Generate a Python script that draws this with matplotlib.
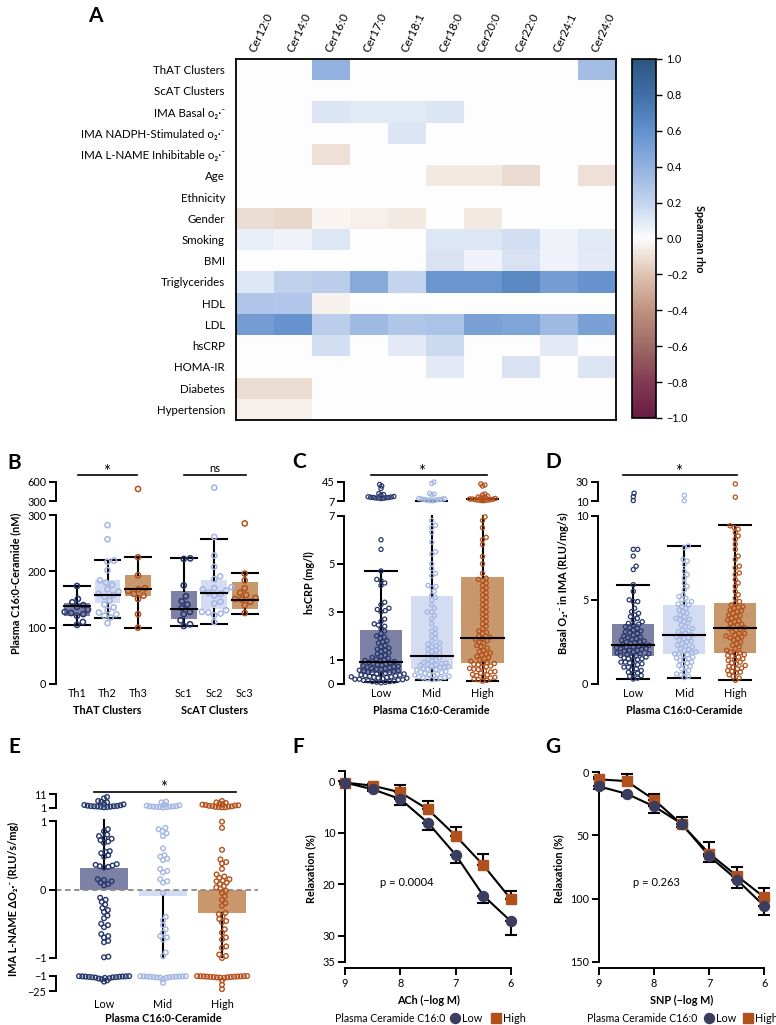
import numpy as np
import matplotlib
matplotlib.use('Agg')
import matplotlib.pyplot as plt
from matplotlib.colors import LinearSegmentedColormap
from matplotlib.lines import Line2D
from matplotlib.patches import Rectangle
from matplotlib.ticker import FuncFormatter

plt.rcParams['font.family'] = ['Lato', 'DejaVu Sans']
plt.rcParams['axes.unicode_minus'] = True

# ---------------- Panel A data ----------------
cer_cols = ['Cer12:0', 'Cer14:0', 'Cer16:0', 'Cer17:0', 'Cer18:1',
            'Cer18:0', 'Cer20:0', 'Cer22:0', 'Cer24:1', 'Cer24:0']
row_labels = ['ThAT Clusters', 'ScAT Clusters', 'IMA Basal o₂·⁻',
              'IMA NADPH-Stimulated o₂·⁻', 'IMA L-NAME Inhibitable o₂·⁻',
              'Age', 'Ethnicity', 'Gender', 'Smoking', 'BMI', 'Triglycerides',
              'HDL', 'LDL', 'hsCRP', 'HOMA-IR', 'Diabetes', 'Hypertension']
rho_that = [0, 0, 0.40, 0, 0, 0, 0, 0, 0, 0.33]
rho_scat = [0, 0, 0, 0, 0, 0, 0, 0, 0, 0]
rho_basal = [0, 0, 0.12, 0.10, 0.10, 0.12, 0, 0, 0, 0]
rho_nadph = [0, 0, 0, 0, 0.12, 0, 0, 0, 0, 0]
rho_lname = [0, 0, -0.10, 0, 0, 0, 0, 0, 0, 0]
rho_age = [0, 0, 0, 0, 0, -0.07, -0.07, -0.12, 0, -0.10]
rho_eth = [0, 0, 0, 0, 0, 0, 0, 0, 0, 0]
rho_gender = [-0.11, -0.13, -0.03, -0.05, -0.07, 0, -0.07, 0, 0, 0]
rho_smoking = [0.07, 0.05, 0.11, 0, 0, 0.11, 0.11, 0.15, 0.05, 0.10]
rho_bmi = [0, 0, 0, 0, 0, 0.13, 0.05, 0.13, 0.05, 0.09]
rho_tg = [0.11, 0.22, 0.24, 0.45, 0.20, 0.57, 0.57, 0.65, 0.52, 0.58]
rho_hdl = [0.28, 0.27, -0.04, 0, 0, 0, 0, 0, 0, 0]
rho_ldl = [0.52, 0.58, 0.24, 0.35, 0.28, 0.30, 0.50, 0.48, 0.35, 0.50]
rho_crp = [0, 0, 0.15, 0, 0.09, 0.17, 0, 0, 0.09, 0]
rho_homa = [0, 0, 0, 0, 0, 0.09, 0, 0.13, 0, 0.12]
rho_diab = [-0.11, -0.11, 0, 0, 0, 0, 0, 0, 0, 0]
rho_htn = [-0.05, -0.05, 0, 0, 0, 0, 0, 0, 0, 0]

# ---------------- Panel B data ----------------
b_labels = ['Th1', 'Th2', 'Th3', 'Sc1', 'Sc2', 'Sc3']
b_q1 = [120, 143, 157, 115, 133, 134]
b_med = [138, 158, 169, 134, 161, 150]
b_q3 = [144, 185, 193, 165, 184, 181]
b_lo = [104, 117, 99, 103, 107, 124]
b_hi = [174, 220, 226, 223, 258, 197]
th1_pts = [174, 151, 145, 140, 137, 132, 128, 126, 124, 121, 110, 105]
th2_pts = [282, 257, 219, 217, 202, 184, 180, 176, 168, 164, 160, 158, 155,
           148, 141, 136, 131, 127, 124, 121, 118, 108]
th3_pts = [490, 225, 193, 170, 168, 165, 160, 157, 151, 124, 100]
sc1_pts = [223, 222, 175, 156, 147, 141, 135, 128, 124, 113, 106, 103]
sc2_pts = [510, 261, 228, 208, 191, 186, 172, 170, 168, 166, 162, 160, 157,
           146, 143, 131, 128, 127, 125, 122, 110]
sc3_pts = [285, 196, 184, 170, 162, 158, 153, 151, 150, 146, 140, 126]

# ---------------- Panel C data (hsCRP) ----------------
grp_labels = ['Low', 'Mid', 'High']
c_q1 = [0.47, 0.61, 0.86]
c_med = [0.93, 1.18, 1.90]
c_q3 = [2.24, 3.68, 4.44]
c_lo = [0.10, 0.18, 0.12]
c_hi = [4.70, 7.5, 12.0]
crp_low = [0.05, 0.07, 0.08, 0.1, 0.1, 0.12, 0.14, 0.15, 0.17, 0.18, 0.2, 0.2,
           0.22, 0.24, 0.25, 0.27, 0.28, 0.3, 0.3, 0.32, 0.34, 0.35, 0.37, 0.38,
           0.4, 0.42, 0.43, 0.45, 0.47, 0.48, 0.5, 0.52, 0.54, 0.55, 0.57, 0.6,
           0.62, 0.64, 0.65, 0.68, 0.7, 0.72, 0.74, 0.76, 0.78, 0.8, 0.83, 0.85,
           0.88, 0.9, 0.93, 0.95, 0.98, 1.0, 1.03, 1.07, 1.1, 1.15, 1.2, 1.25,
           1.3, 1.35, 1.4, 1.45, 1.5, 1.55, 1.6, 1.7, 1.75, 1.8, 1.9, 1.95, 2.0,
           2.1, 2.2, 2.3, 2.4, 2.45, 2.5, 2.6, 2.7, 3.0, 3.05, 3.1, 3.15, 3.3,
           3.4, 4.1, 4.2, 4.3, 4.35, 4.7, 5.6, 6.0,
           12, 12.5, 13, 13, 13.5, 14, 14, 14.5, 15, 15.5, 16, 19, 20, 22, 32, 37, 40]
crp_mid = [0.18, 0.2, 0.22, 0.24, 0.25, 0.27, 0.3, 0.32, 0.35, 0.37, 0.4, 0.42,
           0.45, 0.48, 0.5, 0.52, 0.55, 0.58, 0.6, 0.62, 0.65, 0.68, 0.7, 0.72,
           0.75, 0.78, 0.8, 0.83, 0.85, 0.88, 0.9, 0.95, 1.0, 1.05, 1.1, 1.15,
           1.2, 1.25, 1.3, 1.35, 1.4, 1.45, 1.5, 1.55, 1.6, 1.65, 1.7, 1.8, 1.9,
           2.0, 2.1, 2.2, 2.3, 2.5, 2.7, 2.85, 3.0, 3.0, 3.15, 3.3, 3.5, 3.6,
           3.7, 3.85, 4.0, 4.05, 4.1, 4.5, 4.6, 4.8, 5.0, 5.4, 5.5, 5.9, 6.3,
           6.5, 6.6, 6.8,
           7.3, 8, 8.5, 9, 9.5, 10, 10, 10.5, 11, 11.5, 12, 19, 21, 22, 42, 45]
crp_high = [0.12, 0.15, 0.18, 0.2, 0.25, 0.28, 0.3, 0.35, 0.38, 0.4, 0.45, 0.5,
            0.52, 0.55, 0.6, 0.62, 0.65, 0.7, 0.72, 0.75, 0.8, 0.82, 0.85, 0.88,
            0.9, 0.95, 1.0, 1.05, 1.1, 1.15, 1.2, 1.25, 1.3, 1.35, 1.4, 1.5,
            1.55, 1.6, 1.7, 1.75, 1.8, 1.85, 1.9, 1.95, 2.0, 2.1, 2.15, 2.2, 2.3,
            2.4, 2.5, 2.6, 2.7, 2.8, 2.9, 3.0, 3.1, 3.2, 3.3, 3.4, 3.5, 3.6, 3.7,
            3.8, 3.9, 4.0, 4.1, 4.2, 4.3, 4.35, 4.4, 4.6, 5.0, 5.3, 5.8, 6.0,
            6.1, 6.5, 6.8, 6.95,
            7.5, 8, 8.5, 9, 9, 9.5, 10, 10.5, 11, 11, 12, 12.5, 13, 14, 15, 17,
            19, 21, 37, 39, 41]

# ---------------- Panel D data (basal O2) ----------------
d_q1 = [1.69, 1.80, 1.84]
d_med = [2.32, 2.90, 3.31]
d_q3 = [3.57, 4.70, 4.82]
d_lo = [0.30, 0.38, 0.22]
d_hi = [5.90, 8.17, 9.45]
o2_low = [0.3, 0.35, 0.45, 0.5, 0.6, 0.65, 0.7, 0.8, 0.85, 0.9, 1.0, 1.0, 1.1,
          1.15, 1.2, 1.25, 1.3, 1.3, 1.4, 1.45, 1.5, 1.5, 1.55, 1.6, 1.65, 1.7,
          1.7, 1.75, 1.8, 1.8, 1.85, 1.9, 1.95, 2.0, 2.0, 2.05, 2.1, 2.1, 2.15,
          2.2, 2.2, 2.25, 2.3, 2.3, 2.35, 2.4, 2.45, 2.5, 2.5, 2.55, 2.6, 2.65,
          2.7, 2.75, 2.8, 2.85, 2.9, 3.0, 3.05, 3.1, 3.15, 3.2, 3.3, 3.35, 3.4,
          3.5, 3.55, 3.6, 3.7, 3.8, 3.9, 4.0, 4.1, 4.2, 4.3, 4.5, 4.9, 4.9, 5.0,
          5.5, 5.9, 6.8, 7.0, 7.6, 8.0, 8.0,
          10.5, 14.6, 18.2]
o2_mid = [0.38, 0.45, 0.55, 0.6, 0.7, 0.8, 0.9, 1.0, 1.05, 1.1, 1.2, 1.25, 1.3,
          1.4, 1.45, 1.5, 1.55, 1.6, 1.7, 1.75, 1.8, 1.8, 1.85, 1.9, 2.0, 2.05,
          2.1, 2.2, 2.25, 2.3, 2.4, 2.5, 2.55, 2.6, 2.7, 2.75, 2.8, 2.9, 2.9,
          3.0, 3.1, 3.15, 3.2, 3.3, 3.4, 3.5, 3.6, 3.7, 3.8, 3.85, 3.9, 4.0,
          4.1, 4.2, 4.3, 4.4, 4.5, 4.6, 4.7, 4.75, 4.8, 4.9, 5.0, 5.1, 5.2, 5.3,
          5.6, 5.8, 6.0, 6.3, 6.5, 6.7, 7.1, 7.3, 7.4, 8.1, 8.2,
          10.3, 16.0]
o2_high = [0.22, 0.35, 0.45, 0.55, 0.65, 0.7, 0.75, 0.8, 0.9, 0.95, 1.0, 1.05,
           1.1, 1.2, 1.25, 1.3, 1.4, 1.45, 1.5, 1.6, 1.65, 1.7, 1.75, 1.8, 1.85,
           1.9, 2.0, 2.1, 2.2, 2.3, 2.4, 2.5, 2.6, 2.7, 2.75, 2.8, 2.85, 2.9,
           3.0, 3.0, 3.1, 3.2, 3.25, 3.3, 3.35, 3.4, 3.5, 3.55, 3.6, 3.7, 3.75,
           3.8, 3.9, 4.0, 4.05, 4.1, 4.2, 4.3, 4.35, 4.4, 4.5, 4.55, 4.6, 4.7,
           4.8, 4.9, 5.1, 5.3, 5.5, 5.8, 6.0, 6.2, 6.5, 6.6, 6.9, 7.0, 7.4, 7.6,
           8.0, 8.3, 8.6, 8.8, 9.0, 9.2, 9.3, 9.4,
           14.0, 28.0]

# ---------------- Panel E data (L-NAME delta O2) ----------------
e_mean = [0.32, -0.10, -0.35]
e_sd = [0.70, 0.90, 0.63]
ln_low = [0.88, 0.85, 0.8, 0.78, 0.75, 0.74, 0.72, 0.7, 0.68, 0.56, 0.55, 0.53,
          0.5, 0.48, 0.37, 0.36, 0.35, 0.34, 0.33, 0.32, 0.15, 0.14, 0.12, 0.1,
          0.08, 0.06, -0.12, -0.15, -0.18, -0.22, -0.27, -0.3, -0.33, -0.38,
          -0.42, -0.5, -0.52, -0.55, -0.65, -0.68, -0.7, -0.75, -0.77, -0.98, -0.99,
          1.3, 1.5, 1.6, 1.8, 1.9, 2.0, 2.1, 2.2, 2.3, 2.5, 2.8, 3.0, 3.5, 4.0,
          5.0, 5.5, 6.0, 8.0, 9.0,
          -1.2, -1.3, -1.5, -1.6, -1.8, -2.0, -2.2, -2.5, -2.8, -3.0, -3.2,
          -3.5, -4.0, -4.5, -5.0, -6.0, -8.0, -10.0]
ln_mid = [0.9, 0.88, 0.85, 0.82, 0.78, 0.6, 0.5, 0.48, 0.45, 0.43, 0.3, 0.27,
          0.25, 0.15, 0.12, 0.1, -0.05, -0.4, -0.45, -0.52, -0.58, -0.63, -0.68,
          -0.7, -0.73, -0.92, -0.97,
          1.2, 1.4, 1.5, 1.6, 1.7, 1.8, 1.9, 2.0, 2.2, 2.5, 2.8, 3.5, 5.0, 5.5,
          -1.2, -1.4, -1.5, -1.6, -1.8, -2.0, -2.1, -2.3, -2.5, -2.7, -3.0,
          -3.3, -3.6, -4.0, -6.0, -12.0]
ln_high = [0.99, 0.9, 0.58, 0.44, 0.4, 0.38, 0.3, 0.22, 0.19, 0.17, 0.15, 0.13,
           0.12, 0.1, 0.08, 0.05, 0.03, 0.01, -0.02, -0.05, -0.1, -0.15, -0.2,
           -0.24, -0.34, -0.36, -0.39, -0.43, -0.46, -0.48, -0.58, -0.63, -0.7,
           -0.73, -0.83, -0.85, -0.95, -0.97,
           1.2, 1.3, 1.5, 1.6, 1.8, 2.0, 2.2, 2.4, 2.6, 2.8, 3.0, 3.3, 3.6, 4.0,
           4.5, 5.0, 6.0,
           -1.0, -1.1, -1.3, -1.4, -1.5, -1.6, -1.8, -2.0, -2.2, -2.4, -2.6,
           -2.8, -3.0, -3.3, -3.6, -4.0, -8.0, -15.0, -22.0]

# ---------------- Panels F, G data ----------------
logm = [9, 8.5, 8, 7.5, 7, 6.5, 6]
ach_low = [0.3, 1.6, 3.5, 8.1, 14.3, 22.2, 27.2]
ach_low_err = [0.3, 0.4, 1.2, 1.3, 1.5, 1.5, 2.6]
ach_high = [0.3, 0.9, 2.2, 5.5, 10.6, 16.3, 22.9]
ach_high_err = [0.3, 0.4, 1.4, 1.6, 1.7, 2.2, 1.6]
snp_low = [11.3, 17.1, 27.1, 40.8, 66.5, 85.0, 106.0]
snp_low_err = [2.0, 2.0, 5.3, 3.0, 5.0, 7.0, 7.0]
snp_high = [5.7, 7.1, 21.8, 41.3, 64.4, 82.0, 99.0]
snp_high_err = [2.0, 5.3, 4.2, 6.0, 9.0, 7.0, 7.0]

# ---------------- styling ----------------
PT_COL = ['#27376b', '#a3b6e2', '#b4511c']
BOX_COL = ['#7e81a6', '#d3dcf1', '#c8976b']
LOW_MK, HIGH_MK = '#3a3d5e', '#b0501d'
W, H = 776, 1025
fig = plt.figure(figsize=(W / 100, H / 100), dpi=100)
LW = 1.4
TICK_FS = 7.8
LAB_FS = 7.8


def add_ax(x0, y0, x1, y1):
    return fig.add_axes([x0 / W, 1 - y1 / H, (x1 - x0) / W, (y1 - y0) / H])


def ftext(x, y, s, **kw):
    return fig.text(x / W, 1 - y / H, s, **kw)


def fline(x0, x1, y, **kw):
    fig.add_artist(Line2D([x0 / W, x1 / W], [1 - y / H, 1 - y / H],
                          transform=fig.transFigure, **kw))


def style_seg(ax, yticks, fmt=None):
    for s in ['top', 'right', 'bottom']:
        ax.spines[s].set_visible(False)
    ax.spines['left'].set_linewidth(LW)
    ax.set_yticks(yticks)
    if fmt is not None:
        ax.set_yticklabels([fmt(v) for v in yticks])
    ax.tick_params(axis='y', length=5, width=LW, labelsize=TICK_FS, pad=2)
    ax.tick_params(axis='x', length=0)
    ax.set_xticks([])
    ax.patch.set_alpha(0)


def swarm_x(ax, xc, vals, d):
    vals = np.asarray(vals, float)
    if len(vals) == 0:
        return np.array([])
    pts = ax.transData.transform(np.column_stack([np.full(len(vals), xc), vals]))
    ys = pts[:, 1]
    x0 = pts[0, 0]
    order = np.argsort(ys, kind='stable')
    px, py = [], []
    offs = np.zeros(len(vals))
    for i in order:
        y = ys[i]
        cands = [0.0]
        for a, b in zip(px, py):
            dy = abs(b - y)
            if dy < d:
                dx = np.sqrt(d * d - dy * dy)
                cands.extend([a + dx, a - dx])
        cands.sort(key=abs)
        chosen = cands[-1]
        for c in cands:
            if all((c - a) ** 2 + (y - b) ** 2 >= d * d - 1e-6 for a, b in zip(px, py)):
                chosen = c
                break
        px.append(chosen)
        py.append(y)
        offs[i] = chosen
    back = ax.transData.inverted().transform(np.column_stack([x0 + offs, ys]))
    return back[:, 0]


def draw_points(axes_list, xc, vals, color, d, s, lw, d_thin=None):
    vals = np.asarray(vals, float)
    for ax in axes_list:
        lo, hi = sorted(ax.get_ylim())
        sel = vals[(vals >= lo) & (vals <= hi)]
        if len(sel) == 0:
            continue
        hpx = ax.get_position().height * H
        dd = d_thin if (d_thin is not None and hpx < 25) else d
        xs = swarm_x(ax, xc, sel, dd)
        ax.scatter(xs, sel, s=s, facecolors='none', edgecolors=color,
                   linewidths=lw, zorder=3, clip_on=False)


def draw_box(ax_lo, ax_hi, xc, q1, med, q3, lo, hi, fc, bw, cw):
    ax_lo.add_patch(Rectangle((xc - bw / 2, q1), bw, q3 - q1, facecolor=fc,
                              edgecolor='none', zorder=1))
    top = ax_lo.get_ylim()[1]
    ax_lo.plot([xc, xc], [q3, min(hi, top)], color='black', lw=1.5, zorder=2,
               clip_on=False)
    ax_lo.plot([xc, xc], [q1, lo], color='black', lw=1.5, zorder=2)
    ax_lo.plot([xc - cw / 2, xc + cw / 2], [lo, lo], color='black', lw=1.5, zorder=2)
    if hi <= top:
        ax_lo.plot([xc - cw / 2, xc + cw / 2], [hi, hi], color='black', lw=1.5, zorder=2)
    else:
        b = ax_hi.get_ylim()[0]
        ax_hi.plot([xc, xc], [b, hi], color='black', lw=1.5, zorder=2, clip_on=False)
        ax_hi.plot([xc - cw / 2, xc + cw / 2], [hi, hi], color='black', lw=1.5,
                   zorder=2, clip_on=False)
    ax_lo.plot([xc - bw / 2, xc + bw / 2], [med, med], color='black', lw=1.5, zorder=4)


def make_seg(xl, xr, ytop, ybot, ylim, xfirst, unit):
    ax = add_ax(xl, ytop, xr, ybot)
    ax.set_ylim(*ylim)
    ax.set_xlim((xl - xfirst) / unit, (xr - xfirst) / unit)
    return ax


def num(v):
    return ('%g' % v).replace('-', '\u2212')


def cbfmt(v, p):
    if abs(v) < 1e-9:
        v = 0.0
    return ('%.1f' % v).replace('-', '\u2212')


# ================= Panel A =================
rho = np.array([rho_that, rho_scat, rho_basal, rho_nadph, rho_lname, rho_age,
                rho_eth, rho_gender, rho_smoking, rho_bmi, rho_tg, rho_hdl,
                rho_ldl, rho_crp, rho_homa, rho_diab, rho_htn])
anchors = [(-1.0, '#691a43'), (-0.8, '#823b52'), (-0.6, '#9d6a66'),
           (-0.4, '#bf927f'), (-0.2, '#dfc3b2'), (0.0, '#fdfdfc'),
           (0.2, '#c4d4ee'), (0.4, '#92b1df'), (0.6, '#6391cc'),
           (0.8, '#416fa6'), (1.0, '#2b5580')]
cmap = LinearSegmentedColormap.from_list('rho', [((v + 1) / 2, c) for v, c in anchors],
                                         N=512)

axA = add_ax(236, 59, 616, 420)
mesh = axA.pcolormesh(np.arange(len(cer_cols) + 1), np.arange(len(row_labels) + 1),
                      rho, cmap=cmap, vmin=-1, vmax=1)
axA.set_xlim(0, len(cer_cols))
axA.set_ylim(len(row_labels), 0)
axA.set_xticks([])
axA.set_yticks(np.arange(len(row_labels)) + 0.5)
axA.set_yticklabels(row_labels, fontsize=8.3)
axA.tick_params(axis='y', length=0, pad=8)
for s in axA.spines.values():
    s.set_linewidth(1.3)
for j, c in enumerate(cer_cols):
    xpix = 236 + 38 * (j + 0.5)
    ftext(xpix - 3, 52, c, rotation=65, ha='left', va='center',
          rotation_mode='anchor', fontsize=8.5)

cax = add_ax(632, 59, 656, 418)
cb = fig.colorbar(mesh, cax=cax, ticks=np.round(np.arange(-1, 1.01, 0.2), 1))
cb.ax.yaxis.set_major_formatter(FuncFormatter(cbfmt))
cb.ax.tick_params(labelsize=TICK_FS, length=4, width=1)
cb.outline.set_linewidth(1.2)
cb.set_label('Spearman rho', rotation=270, labelpad=12, fontsize=LAB_FS, fontweight='bold')

# ================= Panel B =================
b_pos = [0, 1, 2, 3.5, 4.5, 5.5]
B_X0, B_U = 77, 30.5
bL = make_seg(56, 262, 515, 684, (0, 300), B_X0, B_U)
bH = make_seg(56, 262, 482, 501, (300, 600), B_X0, B_U)
style_seg(bL, [0, 100, 200, 300])
style_seg(bH, [300, 600])
b_pts = [th1_pts, th2_pts, th3_pts, sc1_pts, sc2_pts, sc3_pts]
b_cidx = [0, 1, 2, 0, 1, 2]
for k in range(6):
    draw_box(bL, bH, b_pos[k], b_q1[k], b_med[k], b_q3[k], b_lo[k], b_hi[k],
             BOX_COL[b_cidx[k]], 0.85, 0.85)
    draw_points([bL, bH], b_pos[k], b_pts[k], PT_COL[b_cidx[k]], 6.5, 14, 1.1)
bL.set_xticks(b_pos)
bL.set_xticklabels(b_labels, fontsize=TICK_FS)
bL.tick_params(axis='x', length=0, pad=3)
ftext(B_X0 + B_U * 1, 711, 'ThAT Clusters', ha='center', va='center',
      fontsize=LAB_FS, fontweight='bold')
ftext(B_X0 + B_U * 4.5, 711, 'ScAT Clusters', ha='center', va='center',
      fontsize=LAB_FS, fontweight='bold')
ftext(16, 583, 'Plasma C16:0-Ceramide (nM)', rotation=90, ha='center', va='center',
      fontsize=LAB_FS, fontweight='bold')
fline(78, 137, 475, color='black', lw=1.2)
ftext(107, 472, '*', ha='center', va='center', fontsize=12)
fline(184, 246, 475, color='black', lw=1.2)
ftext(215, 468, 'ns', ha='center', va='center', fontsize=8)

# ================= Panel C =================
g_pos = [0, 1, 2]
C_X0, C_U = 381, 50.75
cL = make_seg(344, 515, 515.7, 684, (0, 7), C_X0, C_U)
cH = make_seg(344, 515, 482, 501, (7, 45), C_X0, C_U)
style_seg(cL, [0, 1, 3, 5, 7])
style_seg(cH, [7, 45])
for k, vals in enumerate([crp_low, crp_mid, crp_high]):
    draw_box(cL, cH, g_pos[k], c_q1[k], c_med[k], c_q3[k], c_lo[k], c_hi[k],
             BOX_COL[k], 0.83, 0.62)
    draw_points([cL, cH], g_pos[k], vals, PT_COL[k], 4.4, 9, 0.9, d_thin=2.6)
cL.set_xticks(g_pos)
cL.set_xticklabels(grp_labels, fontsize=TICK_FS)
cL.tick_params(axis='x', length=0, pad=3)
ftext(C_X0 + C_U, 711, 'Plasma C16:0-Ceramide', ha='center', va='center',
      fontsize=LAB_FS, fontweight='bold')
ftext(309, 583, 'hsCRP (mg/l)', rotation=90, ha='center', va='center',
      fontsize=LAB_FS, fontweight='bold')
fline(371, 487, 475, color='black', lw=1.2)
ftext(422, 472, '*', ha='center', va='center', fontsize=12)

# ================= Panel D =================
D_X0, D_U = 633.3, 51
dL = make_seg(598, 772, 515.7, 684, (0, 10), D_X0, D_U)
dH = make_seg(598, 772, 482, 501, (10, 30), D_X0, D_U)
style_seg(dL, [0, 5, 10])
style_seg(dH, [10, 30])
for k, vals in enumerate([o2_low, o2_mid, o2_high]):
    draw_box(dL, dH, g_pos[k], d_q1[k], d_med[k], d_q3[k], d_lo[k], d_hi[k],
             BOX_COL[k], 0.83, 0.62)
    draw_points([dL, dH], g_pos[k], vals, PT_COL[k], 4.4, 9, 0.9, d_thin=3.5)
dL.set_xticks(g_pos)
dL.set_xticklabels(grp_labels, fontsize=TICK_FS)
dL.tick_params(axis='x', length=0, pad=3)
ftext(D_X0 + D_U, 711, 'Plasma C16:0-Ceramide', ha='center', va='center',
      fontsize=LAB_FS, fontweight='bold')
ftext(563, 583, 'Basal O₂·⁻ in IMA (RLU/mg/s)', rotation=90, ha='center',
      va='center', fontsize=LAB_FS, fontweight='bold')
fline(623, 737, 475, color='black', lw=1.2)
ftext(679, 472, '*', ha='center', va='center', fontsize=12)

# ================= Panel E =================
E_X0, E_U = 104, 59
eM = make_seg(56, 258, 821, 958, (-1, 1), E_X0, E_U)
eH = make_seg(56, 258, 794.3, 807.7, (1, 11), E_X0, E_U)
eB = make_seg(56, 258, 976, 991, (-25, -1), E_X0, E_U)
style_seg(eM, [-1, 0, 1], num)
style_seg(eH, [1, 11], num)
style_seg(eB, [-25, -1], num)
eM.bar(g_pos, e_mean, width=0.8, color=BOX_COL, zorder=1)
for k in range(3):
    sgn = 1 if e_mean[k] >= 0 else -1
    eM.plot([g_pos[k], g_pos[k]], [e_mean[k], e_mean[k] + sgn * e_sd[k]],
            color='black', lw=1.5, zorder=2, clip_on=False)
eM.axhline(0, color='#8a8a8a', lw=1.3, ls=(0, (3, 2)), zorder=2.5)
for k, vals in enumerate([ln_low, ln_mid, ln_high]):
    draw_points([eM, eH, eB], g_pos[k], vals, PT_COL[k], 4.4, 11, 1.0, d_thin=3.3)
eB.set_xticks(g_pos)
eB.set_xticklabels(grp_labels, fontsize=TICK_FS)
eB.tick_params(axis='x', length=0, pad=6)
ftext(E_X0 + E_U, 1018, 'Plasma C16:0-Ceramide', ha='center', va='center',
      fontsize=LAB_FS, fontweight='bold')
ftext(13, 899, 'IMA L-NAME ΔO₂·⁻ (RLU/s/mg)', rotation=90, ha='center',
      va='center', fontsize=LAB_FS, fontweight='bold')
fline(94, 236, 792, color='black', lw=1.2)
ftext(164, 788, '*', ha='center', va='center', fontsize=12)


# ================= Panels F, G =================
def curve_panel(x0, x1, ytop, ybot, ylim, yticks, lowv, lowe, highv, highe,
                xlabel, ptxt, ppos, ylx):
    ax = add_ax(x0, ytop, x1, ybot)
    ax.set_xlim(9, 6)
    ax.set_ylim(*ylim)
    for s in ['top', 'right']:
        ax.spines[s].set_visible(False)
    ax.spines['left'].set_linewidth(LW)
    ax.spines['bottom'].set_linewidth(LW)
    ax.spines['bottom'].set_position(('outward', 4.5))
    ax.set_xticks([9, 8, 7, 6])
    ax.set_yticks(yticks)
    ax.tick_params(length=5, width=LW, labelsize=TICK_FS, pad=2)
    ax.patch.set_alpha(0)
    z = np.zeros(len(logm))
    ax.errorbar(logm, highv, yerr=[highe, z], fmt='none', ecolor='black',
                elinewidth=1.5, capsize=4, capthick=1.5, zorder=2, clip_on=False)
    ax.errorbar(logm, lowv, yerr=[z, lowe], fmt='none', ecolor='black',
                elinewidth=1.5, capsize=4, capthick=1.5, zorder=2, clip_on=False)
    ax.plot(logm, highv, color='black', lw=1.5, zorder=3, clip_on=False)
    ax.plot(logm, lowv, color='black', lw=1.5, zorder=3, clip_on=False)
    ax.plot(logm, highv, ls='none', marker='s', ms=6.6, color=HIGH_MK, zorder=4,
            clip_on=False)
    ax.plot(logm, lowv, ls='none', marker='o', ms=7.2, color=LOW_MK, zorder=5,
            clip_on=False)
    ftext(ppos[0], ppos[1], ptxt, ha='center', va='center', fontsize=8)
    ftext((x0 + x1) / 2, 1000, xlabel, ha='center', va='center', fontsize=LAB_FS,
          fontweight='bold')
    ftext(ylx, 869, 'Relaxation (%)', rotation=90, ha='center', va='center',
          fontsize=LAB_FS, fontweight='bold')
    return ax


axF = curve_panel(345, 511, 770.7, 961.7, (35, -2), [0, 10, 20, 30, 35],
                  ach_low, ach_low_err, ach_high, ach_high_err,
                  'ACh (\u2212log M)', 'p = 0.0004', (407, 883), 311)
axF.set_yticks([-2], minor=True)
axF.tick_params(which='minor', length=5, width=LW)
axG = curve_panel(599, 764.3, 771.5, 961.7, (150, -0.5), [0, 50, 100, 150],
                  snp_low, snp_low_err, snp_high, snp_high_err,
                  'SNP (\u2212log M)', 'p = 0.263', (656, 883), 559)


def legend_row(x_text, x_circ, x_sq):
    ftext(x_text, 1018, 'Plasma Ceramide C16:0', ha='left', va='center', fontsize=7.6)
    fig.add_artist(Line2D([x_circ / W], [1 - 1018 / H], marker='o', ms=7.2,
                          color=LOW_MK, ls='none', transform=fig.transFigure))
    ftext(x_circ + 7, 1018, 'Low', ha='left', va='center', fontsize=7.8)
    fig.add_artist(Line2D([x_sq / W], [1 - 1018 / H], marker='s', ms=6.6,
                          color=HIGH_MK, ls='none', transform=fig.transFigure))
    ftext(x_sq + 7, 1018, 'High', ha='left', va='center', fontsize=7.8)


legend_row(335, 455, 496)
legend_row(587, 709, 748)

# ================= Panel letters =================
for lab, (x, y) in {'A': (95, 16), 'B': (14, 463), 'C': (299, 462), 'D': (553, 462),
                    'E': (14, 747), 'F': (298, 747), 'G': (553, 747)}.items():
    ftext(x, y, lab, ha='center', va='center', fontsize=15, fontweight='bold')

fig.savefig('out.png', dpi=100)
